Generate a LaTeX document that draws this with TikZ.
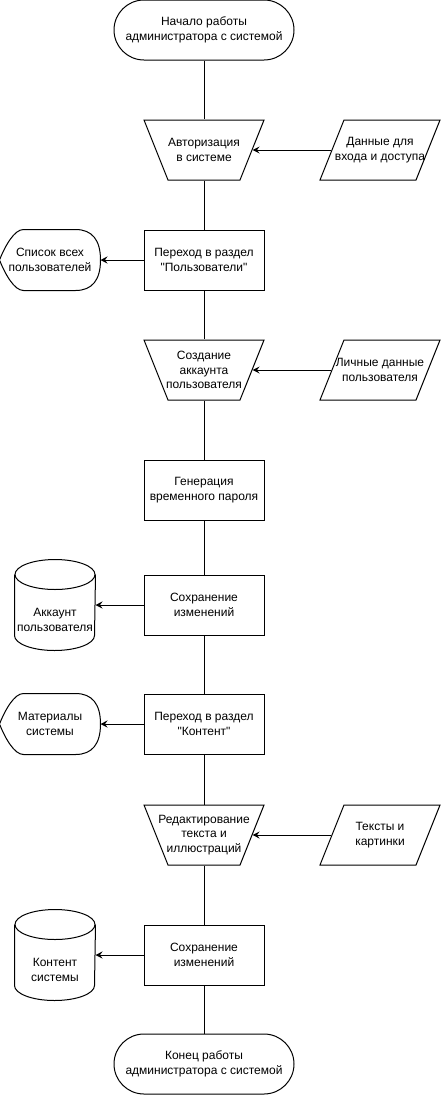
\documentclass[tikz,border=0pt]{standalone}
\usepackage{fontspec}
\setmainfont{Liberation Sans}
\usetikzlibrary{shapes.geometric,arrows.meta}
\begin{document}
\begin{tikzpicture}[x=1pt,y=-1pt,line width=1pt,
	txt/.style={align=center,font=\fontsize{12}{14.5}\selectfont},
	term/.style={txt,draw,rounded corners=30pt,minimum width=180pt,minimum height=60pt},
	proc/.style={txt,draw,minimum width=120pt,minimum height=60pt},
	manual/.style={draw,trapezium,inner sep=2pt,shape border rotate=180,trapezium left angle=71.565,trapezium right angle=71.565,minimum width=120pt,minimum height=60pt,trapezium stretches=true},
	data/.style={draw,trapezium,inner sep=2pt,trapezium left angle=71.565,trapezium right angle=108.435,minimum width=120pt,minimum height=60pt,trapezium stretches=true},
	screen/.style={txt,minimum width=100pt,minimum height=60pt},
	store/.style={minimum width=80pt,minimum height=90pt},
	flow/.style={-{Stealth[length=7pt,width=7pt,inset=2.5pt]}}]
	\tikzstyle{every node}+=[inner sep=0pt]
	\useasboundingbox (0,0) rectangle (441,1095);
	\node [term] (start) at (204,30) {Начало работы\\администратора с системой};
	\node [manual] (auth) at (204,150) {};
	\node [txt] (auth-t) at (auth) {Авторизация\\в системе};
	\node [data] (login) at (380,150) {};
	\node [txt] (login-t) at (login) {Данные для\\входа и доступа};
	\node [proc] (users) at (204,260) {Переход в раздел\\\textquotedbl Пользователи\textquotedbl};
	\node [screen] (list) at (50,260) {Список всех\\пользователей};
	\node [manual] (create) at (204,370) {};
	\node [txt] (create-t) at (create) {Создание\\аккаунта\\пользователя};
	\node [data] (person) at (380,370) {};
	\node [txt] (person-t) at (person) {Личные данные\\пользователя};
	\node [proc] (pass) at (204,490) {Генерация\\временного пароля};
	\node [proc] (save1) at (204,605) {Сохранение\\изменений};
	\node [store] (acc) at (55,605) {};
	\node [txt] (acc-t) at ([yshift=-15pt]acc.center) {Аккаунт\\пользователя};
	\node [proc] (content) at (204,724) {Переход в раздел\\\textquotedbl Контент\textquotedbl};
	\node [screen] (mat) at (50,724) {Материалы\\системы};
	\node [manual] (edit) at (204,835) {};
	\node [txt] (edit-t) at (edit) {Редактирование\\текста и\\иллюстраций};
	\node [data] (texts) at (380,835) {};
	\node [txt] (texts-t) at (texts) {Тексты и\\картинки};
	\node [proc] (save2) at (204,955) {Сохранение\\изменений};
	\node [store] (db) at (55,955) {};
	\node [txt] (db-t) at ([yshift=-15pt]db.center) {Контент\\системы};
	\node [term] (stop) at (204,1064) {Конец работы\\администратора с системой};
	\foreach \s in {list,mat}
		\draw (\s.west) .. controls +(6pt,15pt) and +(-9pt,0pt) .. ([xshift=24pt]\s.north west) -- ([xshift=-25pt]\s.north east) .. controls +(16.7pt,0pt) and +(0pt,20pt) .. (\s.east) .. controls +(0pt,-20pt) and +(16.7pt,0pt) .. ([xshift=-25pt]\s.south east) -- ([xshift=24pt]\s.south west) .. controls +(-9pt,0pt) and +(6pt,-15pt) .. cycle;
	\foreach \s in {acc,db} {
		\draw ([yshift=-15pt]\s.north west) -- ([yshift=15pt]\s.south west) arc [start angle=180,end angle=360,x radius=40pt,y radius=15pt] -- ([yshift=-15pt]\s.north east);
		\draw ([yshift=-15pt]\s.north) ellipse [x radius=40pt,y radius=15pt];
	}
	\draw (start) -- (auth) -- (users) -- (create) -- (pass) -- (save1) -- (content) -- (edit) -- (save2) -- (stop);
	\draw [flow] (login) -- (auth);
	\draw [flow] (person) -- (create);
	\draw [flow] (texts) -- (edit);
	\draw [flow] (users) -- (list);
	\draw [flow] (save1) -- (acc);
	\draw [flow] (content) -- (mat);
	\draw [flow] (save2) -- (db);
\end{tikzpicture}
\end{document}
